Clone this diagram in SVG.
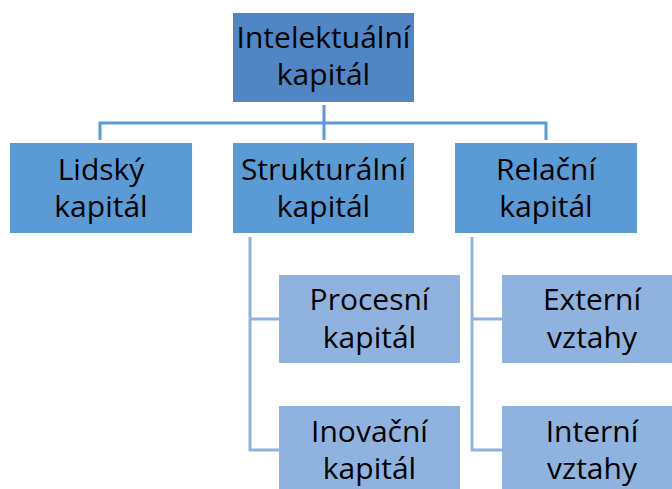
<svg xmlns="http://www.w3.org/2000/svg" width="672" height="489" viewBox="0 0 672 489">
<style>
.t{font-family:"Open Sans","Noto Sans",sans-serif;font-size:30px;fill:#000;text-anchor:middle}
.l1{fill:#4f86c3}
.l2{fill:#5b9bd5}
.l3{fill:#8fb3de}
.c{fill:none;stroke:#5b9bd5;stroke-width:3}
.c2{fill:none;stroke:#8fb3de;stroke-width:3}
</style>
<rect width="672" height="489" fill="#fff"/>
<g id="connectors">
<path class="c" d="M324 105V140M100 140V123H546V140"/>
<path class="c2" d="M250 237V450H279M250 319H279"/>
<path class="c2" d="M472 237V450H502M472 319H502"/>
</g>
<g id="n-intelektualni"><rect class="l1" x="233" y="13" width="181" height="89"/><text class="t" x="323.5" y="48">Intelektuální</text><text class="t" x="323.5" y="85">kapitál</text></g>
<g id="n-lidsky"><rect class="l2" x="10" y="143" width="182" height="90"/><text class="t" x="101" y="180">Lidský</text><text class="t" x="101" y="217">kapitál</text></g>
<g id="n-strukturalni"><rect class="l2" x="233" y="143" width="181" height="90"/><text class="t" x="323.5" y="180">Strukturální</text><text class="t" x="323.5" y="217">kapitál</text></g>
<g id="n-relacni"><rect class="l2" x="455" y="143" width="182" height="90"/><text class="t" x="546" y="180">Relační</text><text class="t" x="546" y="217">kapitál</text></g>
<g id="n-procesni"><rect class="l3" x="279" y="275" width="181" height="88"/><text class="t" x="369.5" y="310">Procesní</text><text class="t" x="369.5" y="348">kapitál</text></g>
<g id="n-inovacni"><rect class="l3" x="279" y="406" width="181" height="90"/><text class="t" x="369.5" y="442">Inovační</text><text class="t" x="369.5" y="479">kapitál</text></g>
<g id="n-externi"><rect class="l3" x="502" y="275" width="181" height="88"/><text class="t" x="592" y="310">Externí</text><text class="t" x="592" y="348">vztahy</text></g>
<g id="n-interni"><rect class="l3" x="502" y="406" width="181" height="90"/><text class="t" x="592" y="442">Interní</text><text class="t" x="592" y="479">vztahy</text></g>
</svg>
